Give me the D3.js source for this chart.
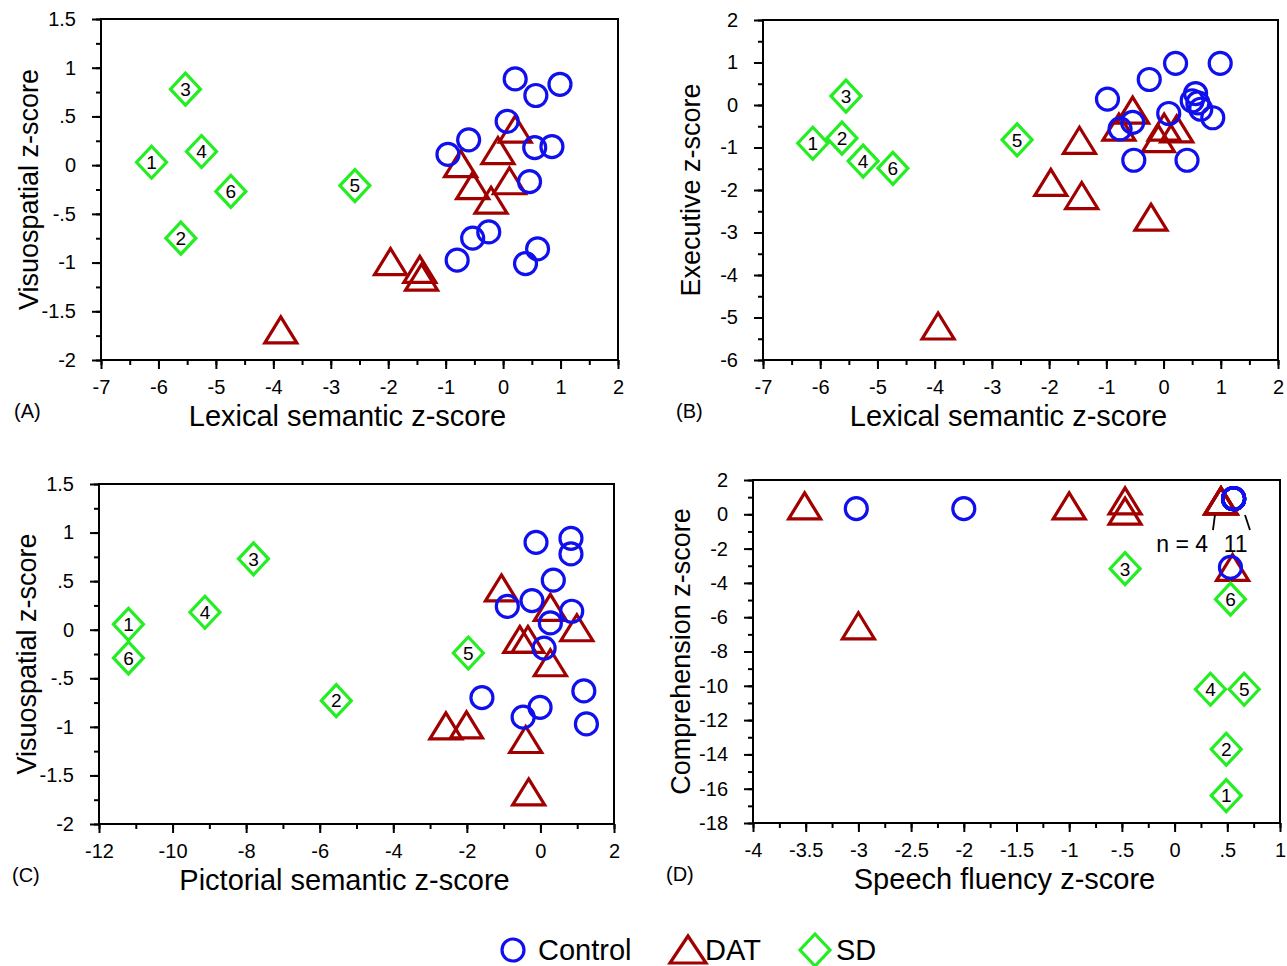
<!DOCTYPE html>
<html>
<head>
<meta charset="utf-8">
<script src="https://cdn.jsdelivr.net/npm/d3@7"></script>
<style>
  body { margin: 0; background: #fff; }
  text { font-family: "Liberation Sans", Arial, sans-serif; fill: #000; }
</style>
</head>
<body>
<script>
// ---- data ----
// panel A: lexical semantic (x) vs visuospatial (y)
var controlA = [[0.21,0.885],[0.57,0.715],[0.99,0.83],[0.07,0.45],[-0.60,0.26],[-0.96,0.11],[0.55,0.18],
  [0.85,0.19],[0.46,-0.17],[-0.25,-0.685],[-0.53,-0.75],[-0.80,-0.975],[0.60,-0.86],[0.39,-1.01]];
var datA = [[0.21,0.37],[-0.09,0.15],[-0.74,0.015],[-0.53,-0.21],[0.11,-0.16],[-0.21,-0.36],
  [-1.96,-0.99],[-1.45,-1.07],[-1.42,-1.15],[-3.87,-1.69]];
var sdA = [[-6.12,0.03],[-5.61,-0.75],[-5.53,0.78],[-5.25,0.14],[-2.58,-0.21],[-4.74,-0.27]];

// panel B: lexical semantic (x) vs executive (y)
var controlB = [[0.21,0.98],[0.99,0.98],[-0.25,0.60],[-0.98,0.14],[0.56,0.27],[0.5,0.1],[0.6,0.05],
  [0.65,-0.1],[0.86,-0.30],[0.09,-0.20],[-0.76,-0.56],[-0.54,-0.41],[-0.52,-1.30],[0.41,-1.30]];
var datB = [[-0.54,-0.12],[-0.78,-0.52],[0.01,-0.52],[0.23,-0.56],[-0.09,-0.79],[-1.47,-0.83],
  [-1.97,-1.82],[-1.43,-2.13],[-0.22,-2.64],[-3.94,-5.2]];
var sdB = [[-6.13,-0.90],[-5.62,-0.78],[-5.55,0.21],[-5.25,-1.32],[-2.56,-0.82],[-4.73,-1.49]];

// panel C: pictorial semantic (x) vs visuospatial (y)
var controlC = [[-0.12,0.90],[0.83,0.94],[0.83,0.78],[0.35,0.51],[-0.90,0.24],[-0.23,0.30],[0.85,0.19],
  [0.27,0.07],[0.10,-0.19],[-1.59,-0.70],[-0.01,-0.80],[-0.47,-0.90],[1.18,-0.63],[1.25,-0.97]];
var datC = [[-1.06,0.43],[0.27,0.23],[0.99,0.02],[-0.56,-0.10],[-0.34,-0.10],[0.27,-0.34],
  [-2.57,-0.99],[-2.01,-0.98],[-0.40,-1.13],[-0.32,-1.67]];
var sdC = [[-11.2,0.055],[-5.55,-0.73],[-7.80,0.73],[-9.12,0.18],[-1.96,-0.24],[-11.2,-0.29]];

// panel D: speech fluency (x) vs comprehension (y)
var controlD = [[-3.02,0.33],[-2.0,0.33],
  [0.56,0.91],[0.56,0.91],[0.56,0.91],[0.56,0.91],[0.56,0.91],[0.56,0.91],
  [0.56,0.91],[0.56,0.91],[0.56,0.91],[0.56,0.91],[0.56,0.91],
  [0.53,-3.1]];
var datD = [[-3.51,0.49],[-1.0,0.49],[-0.47,0.78],[-0.47,0.19],
  [0.44,0.78],[0.44,0.78],[0.44,0.78],[0.44,0.78],[0.55,-3.1],[-3.0,-6.5]];
var sdD = [[0.49,-16.4],[0.49,-13.7],[-0.47,-3.17],[0.34,-10.2],[0.66,-10.2],[0.53,-4.95]];

var groups = ["Control", "DAT", "SD"];
var colors = {Control: "#1010ee", DAT: "#a00000", SD: "#22ee22"};

// ---- layout ----
var width = 1287, height = 966;

var svg = d3.select("body").append("svg")
  .attr("width", width)
  .attr("height", height);

var fmt = function(v) {
  var s = String(+v.toFixed(2));
  return s.replace(/^(-?)0\./, "$1.");
};

var panels = [
  {id: "(A)", box: [101, 618, 19, 360], xd: [-7, 2], yd: [-2, 1.5], xs: 1, ys: 0.5,
   xt: "Lexical semantic z-score", yt: "Visuospatial z-score",
   control: controlA, dat: datA, sd: sdA},
  {id: "(B)", box: [763, 1278, 20, 360], xd: [-7, 2], yd: [-6, 2], xs: 1, ys: 1,
   xt: "Lexical semantic z-score", yt: "Executive z-score",
   control: controlB, dat: datB, sd: sdB},
  {id: "(C)", box: [99, 614, 484, 824], xd: [-12, 2], yd: [-2, 1.5], xs: 2, ys: 0.5,
   xt: "Pictorial semantic z-score", yt: "Visuospatial z-score",
   control: controlC, dat: datC, sd: sdC},
  {id: "(D)", box: [753, 1280, 480, 823], xd: [-4, 1], yd: [-18, 2], xs: 0.5, ys: 2,
   xt: "Speech fluency z-score", yt: "Comprehension z-score",
   control: controlD, dat: datD, sd: sdD}
];

var tri = "M0,-13L16,13L-16,13Z";
var dia = "M0,-16L15,0L0,16L-15,0Z";

function ticks(d, step) {
  var n = Math.round((d[1] - d[0]) / step);
  return d3.range(n + 1).map(function(i) { return +(d[0] + i * step).toFixed(3); });
}

panels.forEach(function(p) {
  var x = d3.scaleLinear().domain(p.xd).range([p.box[0], p.box[1]]);
  var y = d3.scaleLinear().domain(p.yd).range([p.box[3], p.box[2]]);
  var g = svg.append("g");

  // frame
  g.append("rect")
    .attr("x", p.box[0]).attr("y", p.box[2])
    .attr("width", p.box[1] - p.box[0]).attr("height", p.box[3] - p.box[2])
    .attr("fill", "none").attr("stroke", "#000").attr("stroke-width", 2);

  // minor ticks
  g.append("g")
    .attr("transform", "translate(0," + p.box[3] + ")")
    .call(d3.axisBottom(x).tickValues(ticks(p.xd, p.xs / 2)).tickSize(5).tickFormat(""))
    .call(function(a) { a.select(".domain").remove(); });
  g.append("g")
    .attr("transform", "translate(" + p.box[0] + ",0)")
    .call(d3.axisLeft(y).tickValues(ticks(p.yd, p.ys / 2)).tickSize(5).tickFormat(""))
    .call(function(a) { a.select(".domain").remove(); });

  // major ticks
  var xa = g.append("g")
    .attr("transform", "translate(0," + p.box[3] + ")")
    .call(d3.axisBottom(x).tickValues(ticks(p.xd, p.xs)).tickSize(9).tickPadding(11).tickFormat(fmt));
  var ya = g.append("g")
    .attr("transform", "translate(" + p.box[0] + ",0)")
    .call(d3.axisLeft(y).tickValues(ticks(p.yd, p.ys)).tickSize(9).tickPadding(16).tickFormat(fmt));
  [xa, ya].forEach(function(a) {
    a.select(".domain").remove();
    a.selectAll("text").attr("font-size", 20).attr("font-family", null);
  });
  g.selectAll(".tick line").attr("stroke-width", 2);

  // titles
  var cx = (p.box[0] + p.box[1]) / 2 - 12;
  g.append("text")
    .attr("x", cx).attr("y", p.box[3] + 66)
    .attr("text-anchor", "middle")
    .attr("font-size", 29)
    .text(p.xt);
  g.append("text")
    .attr("transform", "translate(" + (p.box[0] - 63) + "," + ((p.box[2] + p.box[3]) / 2) + ") rotate(-90)")
    .attr("text-anchor", "middle")
    .attr("font-size", 27)
    .text(p.yt);
  g.append("text")
    .attr("x", p.box[0] - 87).attr("y", p.box[3] + 58)
    .attr("font-size", 20)
    .text(p.id);

  // markers: DAT, then Control, then SD on top
  g.append("g").selectAll("path")
    .data(p.dat).enter().append("path")
    .attr("d", tri)
    .attr("transform", function(d) { return "translate(" + x(d[0]) + "," + y(d[1]) + ")"; })
    .attr("fill", "none").attr("stroke", colors.DAT).attr("stroke-width", 3.2);

  g.append("g").selectAll("circle")
    .data(p.control).enter().append("circle")
    .attr("cx", function(d) { return x(d[0]); })
    .attr("cy", function(d) { return y(d[1]); })
    .attr("r", 11)
    .attr("fill", "none").attr("stroke", colors.Control).attr("stroke-width", 3.2);

  var sd = g.append("g").selectAll("g")
    .data(p.sd).enter().append("g")
    .attr("transform", function(d) { return "translate(" + x(d[0]) + "," + y(d[1]) + ")"; });
  sd.append("path")
    .attr("d", dia)
    .attr("fill", "none").attr("stroke", colors.SD).attr("stroke-width", 3.2);
  sd.append("text")
    .attr("text-anchor", "middle")
    .attr("dy", "0.36em")
    .attr("font-size", 19)
    .text(function(d, i) { return i + 1; });

  p.x = x; p.y = y; p.g = g;
});

// panel D annotation: counts of overlapping points
var pd = panels[3];
var notes = [[[0.383, -0.04], [0.364, -0.92]], [[0.668, -0.04], [0.715, -0.92]]];
pd.g.selectAll(".note")
  .data(notes).enter().append("line")
  .attr("x1", function(d) { return pd.x(d[0][0]); })
  .attr("y1", function(d) { return pd.y(d[0][1]); })
  .attr("x2", function(d) { return pd.x(d[1][0]); })
  .attr("y2", function(d) { return pd.y(d[1][1]); })
  .attr("stroke", "#000").attr("stroke-width", 1.8);
pd.g.append("text")
  .attr("x", pd.x(0.317)).attr("y", pd.y(-2.2))
  .attr("text-anchor", "end").attr("font-size", 23)
  .text("n = 4");
pd.g.append("text")
  .attr("x", pd.x(0.58)).attr("y", pd.y(-2.2))
  .attr("text-anchor", "middle").attr("font-size", 23)
  .text("11");

// legend
var legend = svg.append("g").attr("transform", "translate(0,950)");
var lx = [513, 688, 815];
groups.forEach(function(k, i) {
  var item = legend.append("g").attr("transform", "translate(" + lx[i] + ",0)");
  if (k === "Control") {
    item.append("circle").attr("r", 11);
  } else {
    item.append("path").attr("d", k === "DAT" ? "M0,-14L18,13L-18,13Z" : dia);
  }
  item.select(":first-child")
    .attr("fill", "none").attr("stroke", colors[k]).attr("stroke-width", 3.2);
  item.append("text")
    .attr("x", k === "Control" ? 25 : (k === "DAT" ? 17 : 21))
    .attr("dy", "0.36em")
    .attr("font-size", 29)
    .text(k);
});
</script>
</body>
</html>
